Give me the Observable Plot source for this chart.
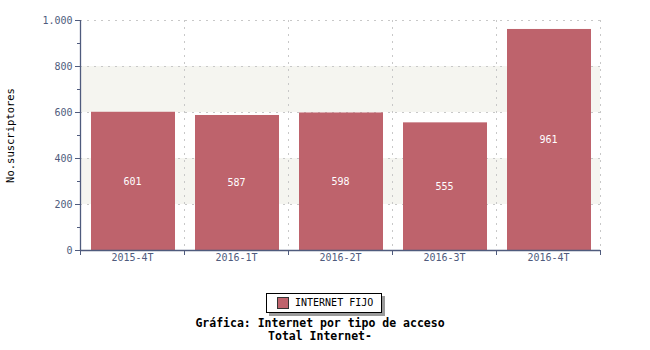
<!DOCTYPE html>
<html>
<head>
<meta charset="utf-8">
<script src="https://cdn.jsdelivr.net/npm/d3@7"></script>
<script src="https://cdn.jsdelivr.net/npm/@observablehq/plot@0.6"></script>
<style>
  body { margin: 0; background: white; }
  #wrap { position: relative; width: 650px; height: 350px; font-family: "DejaVu Sans Mono", monospace; }
  #below { position: relative; width: 650px; height: 65px; }
  #legend { position: absolute; left: 266px; top: 8px; width: 116px; height: 20px; border: 1px solid #000; background: #fff; box-shadow: 3px 3px 0 #9a9a9a; box-sizing: border-box; }
  #swatch { position: absolute; left: 10px; top: 3px; width: 12px; height: 12px; border: 1px solid #333; box-sizing: border-box; }
  #legtext { position: absolute; left: 28px; top: 2px; font-size: 10px; line-height: 14px; color: #000; }
  #titles { position: absolute; left: 0; top: 32px; width: 640px; text-align: center; font-weight: bold; font-size: 11.5px; line-height: 13px; color: #000; }
</style>
</head>
<body>
<div id="wrap">
  <div id="chart"></div>
  <div id="below">
    <div id="legend"><div id="swatch"></div><div id="legtext"></div></div>
    <div id="titles"><div id="t1"></div><div id="t2"></div></div>
  </div>
</div>
<script>
const categories = ["2015-4T", "2016-1T", "2016-2T", "2016-3T", "2016-4T"];
const values = [601, 587, 598, 555, 961];
const yTicks = [0, 200, 400, 600, 800, 1000];
const yMinorTicks = [100, 300, 500, 700, 900];
const bands = [[200, 400], [600, 800]];
const seriesName = "INTERNET FIJO";
const yLabel = "No.suscriptores";
const title = "Gráfica: Internet por tipo de acceso";
const subtitle = "Total Internet-";

const barColor = "#be636c";
const axisColor = "#4f5b7d";
const gridColor = "#c8c8c8";
const n = categories.length;
const boundaries = d3.range(0, n + 1);
const centers = d3.range(n).map(i => i + 0.5);
const fmt = d => d3.format(",")(d).replace(/,/g, ".");

const chart = Plot.plot({
  width: 650,
  height: 285,
  marginLeft: 80,
  marginRight: 50,
  marginTop: 20,
  marginBottom: 35,
  style: { fontFamily: "DejaVu Sans Mono", fontSize: "10px", color: axisColor, background: "white" },
  x: { domain: [0, n], axis: null },
  y: { domain: [0, 1000], axis: null },
  marks: [
    Plot.rectY(bands, { x1: () => 0, x2: () => n, y1: d => d[0], y2: d => d[1], fill: "#f5f5f0" }),
    Plot.ruleY(yTicks.slice(1), { stroke: gridColor, strokeDasharray: "2,5" }),
    Plot.ruleX(boundaries.slice(1), { stroke: gridColor, strokeDasharray: "2,5" }),
    Plot.rectY(values, { x1: (d, i) => i, x2: (d, i) => i + 1, y1: () => 0, y2: d => d, fill: barColor, insetLeft: 11, insetRight: 9 }),
    Plot.text(values, { x: (d, i) => i + 0.5, y: d => d / 2, text: d => String(d), fill: "white", fontSize: 10 }),
    Plot.ruleY([0], { stroke: axisColor, strokeWidth: 1.3 }),
    Plot.ruleX([0], { stroke: axisColor, strokeWidth: 1.3 }),
    Plot.axisY(yTicks, { tickSize: 5, tickPadding: 3, tickFormat: fmt }),
    Plot.axisY(yMinorTicks, { tickSize: 3, tickFormat: () => "" }),
    Plot.axisX(boundaries, { tickSize: 5, tickFormat: () => "" }),
    Plot.axisX(centers, { tickSize: 0, tickPadding: 3, tickFormat: d => categories[Math.floor(d)] }),
    Plot.text([yLabel], { frameAnchor: "left", dx: -70, rotate: -90, textAnchor: "middle", fill: "black", fontSize: 10.5 })
  ]
});
document.getElementById("chart").appendChild(chart);
document.getElementById("swatch").style.background = barColor;
document.getElementById("legtext").textContent = seriesName;
document.getElementById("t1").textContent = title;
document.getElementById("t2").textContent = subtitle;
</script>
</body>
</html>
